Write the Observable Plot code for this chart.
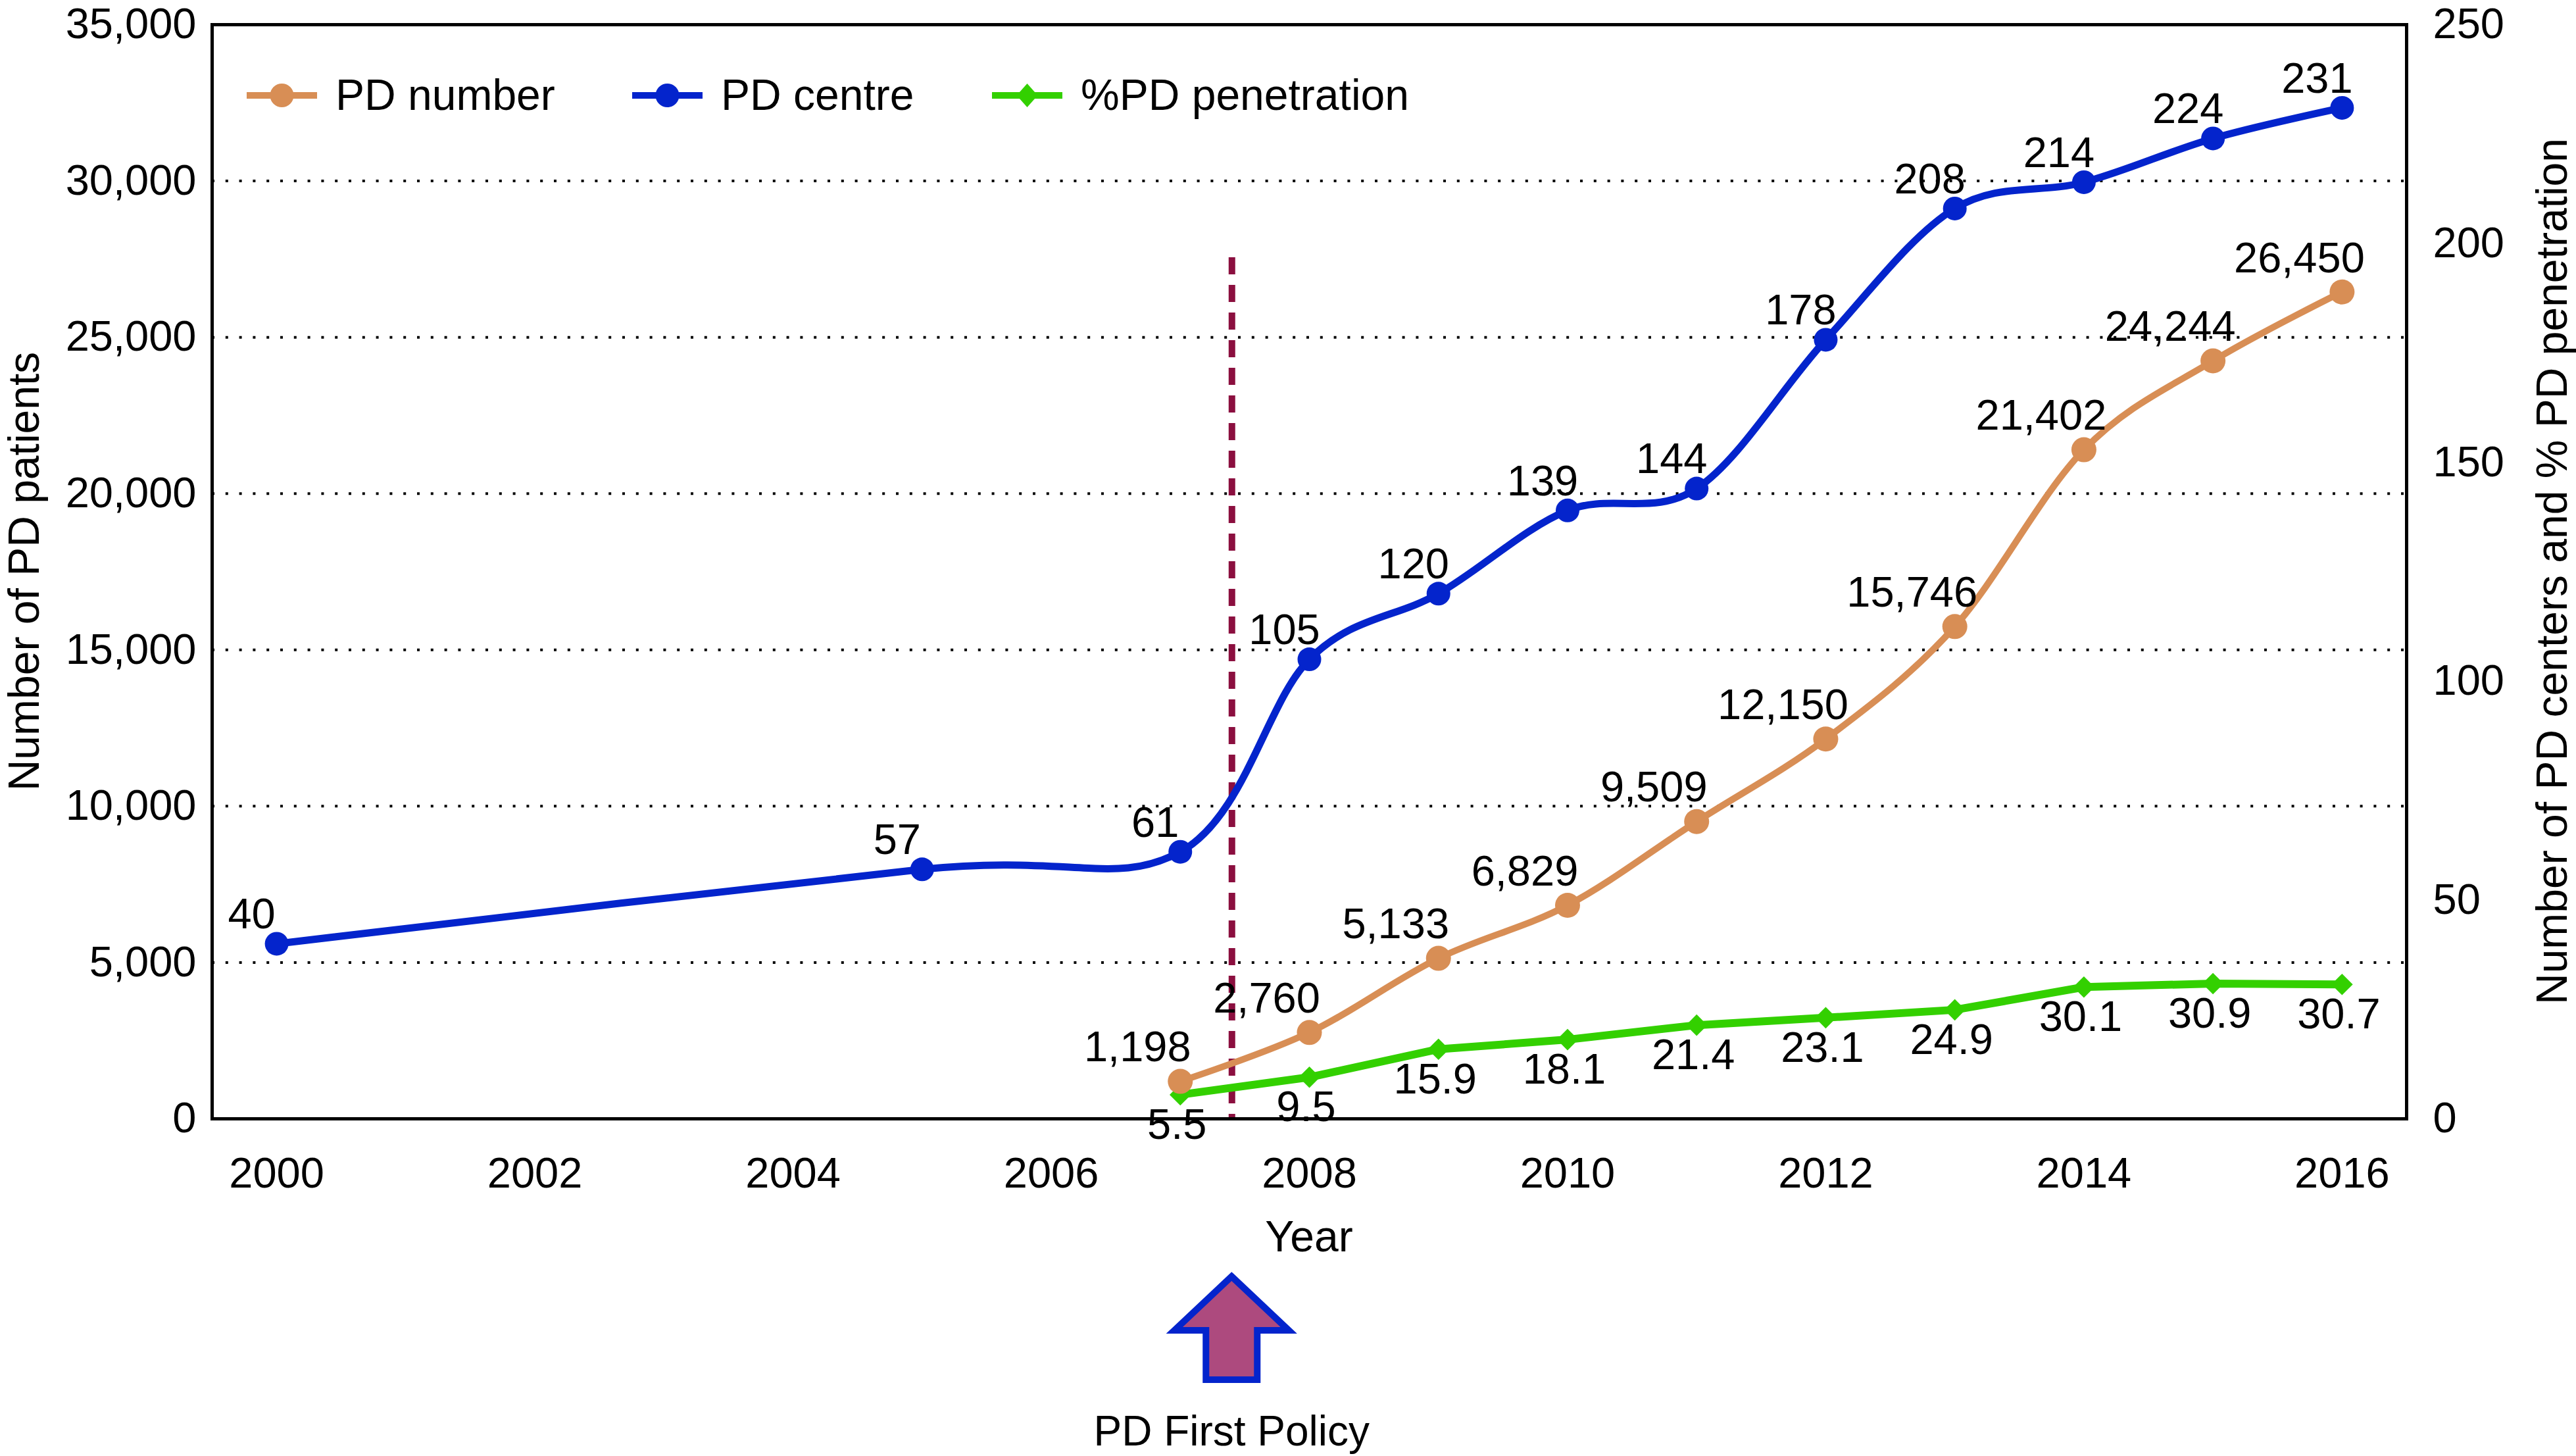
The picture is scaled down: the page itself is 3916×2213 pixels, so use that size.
<!DOCTYPE html>
<html>
<head>
<meta charset="utf-8">
<script src="https://cdn.jsdelivr.net/npm/d3@7"></script>
<script src="https://cdn.jsdelivr.net/npm/@observablehq/plot@0.6"></script>
<style>
  html, body { margin: 0; padding: 0; background: #ffffff; }
  #chart { width: 3916px; height: 2213px; position: relative; overflow: hidden; }
</style>
</head>
<body>
<div id="chart"></div>
<script>
// ---------------- data ----------------
const pdNumberYears  = [2007, 2008, 2009, 2010, 2011, 2012, 2013, 2014, 2015, 2016];
const pdNumberValues = [1198, 2760, 5133, 6829, 9509, 12150, 15746, 21402, 24244, 26450];

const pdCentreYears  = [2000, 2005, 2007, 2008, 2009, 2010, 2011, 2012, 2013, 2014, 2015, 2016];
const pdCentreValues = [40, 57, 61, 105, 120, 139, 144, 178, 208, 214, 224, 231];

const penetrationYears  = [2007, 2008, 2009, 2010, 2011, 2012, 2013, 2014, 2015, 2016];
const penetrationValues = [5.5, 9.5, 15.9, 18.1, 21.4, 23.1, 24.9, 30.1, 30.9, 30.7];

const seriesNames = ["PD number", "PD centre", "%PD penetration"];

const xTicks     = [2000, 2002, 2004, 2006, 2008, 2010, 2012, 2014, 2016];
const leftTicks  = [0, 5000, 10000, 15000, 20000, 25000, 30000, 35000];
const rightTicks = [0, 50, 100, 150, 200, 250];
const xDomain    = [1999.5, 2016.5];

const policyYear    = 2007.4;   // "PD First Policy"
const policyLineTop = 27550;    // top of dashed marker, in PD-patient units

const xTitle      = "Year";
const yLeftTitle  = "Number of PD patients";
const yRightTitle = "Number of PD centers and % PD penetration";
const policyLabel = "PD First Policy";

// ---------------- layout / style ----------------
const W = 3916, H = 2213;
const mL = 322, mR = 258, mT = 37, mB = 513;
const FONT = "'Liberation Sans', Arial, Helvetica, sans-serif";
const ORANGE = "#d88e55";
const BLUE   = "#0424cc";
const GREEN  = "#33d000";
const MAROON = "#8b0f3f";
const ARROWFILL = "#ad4a7e";

const leftMax = leftTicks[leftTicks.length - 1];
const rightMax = rightTicks[rightTicks.length - 1];
const k = leftMax / rightMax; // right axis -> left axis units

const pdNumber = pdNumberYears.map((year, i) => ({year, value: pdNumberValues[i]}));
const pdCentre = pdCentreYears.map((year, i) => ({year, value: pdCentreValues[i], scaled: pdCentreValues[i] * k}));
const penetration = penetrationYears.map((year, i) => ({year, value: penetrationValues[i], scaled: penetrationValues[i] * k}));
const gridValues = leftTicks.filter(v => v > 0 && v < leftMax);

const fmtComma = d3.format(",");

const plot = Plot.plot({
  width: W,
  height: H,
  marginLeft: mL,
  marginRight: mR,
  marginTop: mT,
  marginBottom: mB,
  style: {fontFamily: FONT, fontSize: "64px", background: "white", color: "black", overflow: "visible"},
  x: {domain: xDomain, label: null},
  y: {domain: [0, leftMax], label: null},
  marks: [
    Plot.ruleY(gridValues, {stroke: "black", strokeWidth: 4, strokeDasharray: "4,16.8"}),
    Plot.ruleX([{x: policyYear, top: policyLineTop, bottom: 0}], {x: "x", y1: "top", y2: "bottom", stroke: MAROON, strokeWidth: 10, strokeDasharray: "26,16"}),

    Plot.line(penetration, {x: "year", y: "scaled", stroke: GREEN, strokeWidth: 12, curve: "linear"}),
    Plot.line(pdNumber, {x: "year", y: "value", stroke: ORANGE, strokeWidth: 10, curve: "cardinal"}),
    Plot.line(pdCentre, {x: "year", y: "scaled", stroke: BLUE, strokeWidth: 11, curve: "cardinal"}),

    Plot.dot(penetration, {x: "year", y: "scaled", fill: GREEN, symbol: "square", rotate: 45, r: 13}),
    Plot.dot(pdNumber, {x: "year", y: "value", fill: ORANGE, r: 19}),
    Plot.dot(pdCentre, {x: "year", y: "scaled", fill: BLUE, r: 18}),

    Plot.text(pdNumber, {x: "year", y: "value", text: d => fmtComma(d.value), dx: -65, dy: -51, fill: "black", fontSize: 65}),
    Plot.text(pdCentre, {x: "year", y: "scaled", text: d => String(d.value), dx: -38, dy: -44, fill: "black", fontSize: 65}),
    Plot.text(penetration, {x: "year", y: "scaled", text: d => d.value.toFixed(1), dx: -5, dy: 46, fill: "black", fontSize: 65}),

    Plot.frame({stroke: "black", strokeWidth: 5}),

    Plot.axisX(xTicks, {anchor: "bottom", tickSize: 0, tickPadding: 58, tickFormat: d => String(d), label: null, fontSize: 65}),
    Plot.axisY(leftTicks, {anchor: "left", tickSize: 0, tickPadding: 24, tickFormat: d => fmtComma(d), label: null, fontSize: 65}),
    Plot.axisY(rightTicks.map(v => v * k), {anchor: "right", tickSize: 0, tickPadding: 40, tickFormat: d => String(Math.round(d / k)), label: null, fontSize: 65})
  ]
});

document.getElementById("chart").appendChild(plot);

// ---------------- annotations (titles, legend, policy arrow) ----------------
const svg = d3.select(plot);
const xs = plot.scale("x");
const fx = (xs && typeof xs.apply === "function") ? (v => xs.apply(v)) : d3.scaleLinear(xDomain, [mL, W - mR]);

const ann = svg.append("g").attr("font-family", FONT).attr("fill", "black").attr("text-anchor", "start");

// axis titles
ann.append("text")
  .attr("x", mL + (W - mL - mR) / 2).attr("y", 1902)
  .attr("text-anchor", "middle").attr("font-size", 66).text(xTitle);
ann.append("text")
  .attr("transform", `translate(59, ${mT + (H - mB - mT) / 2}) rotate(-90)`)
  .attr("text-anchor", "middle").attr("font-size", 66).text(yLeftTitle);
ann.append("text")
  .attr("transform", `translate(3902, ${mT + (H - mB - mT) / 2}) rotate(-90)`)
  .attr("text-anchor", "middle").attr("font-size", 66).text(yRightTitle);

// legend
const legendItems = [
  {name: seriesNames[0], color: ORANGE, symbol: "circle", x0: 375},
  {name: seriesNames[1], color: BLUE, symbol: "circle", x0: 961},
  {name: seriesNames[2], color: GREEN, symbol: "diamond", x0: 1508}
];
const ly = 145;
legendItems.forEach(it => {
  const g = ann.append("g");
  g.append("line").attr("x1", it.x0).attr("x2", it.x0 + 107).attr("y1", ly).attr("y2", ly)
    .attr("stroke", it.color).attr("stroke-width", 10);
  const cx = it.x0 + 53.5;
  if (it.symbol === "circle") {
    g.append("circle").attr("cx", cx).attr("cy", ly).attr("r", 18).attr("fill", it.color);
  } else {
    g.append("path").attr("d", `M${cx},${ly - 18}L${cx + 16},${ly}L${cx},${ly + 18}L${cx - 16},${ly}Z`).attr("fill", it.color);
  }
  g.append("text").attr("x", it.x0 + 135).attr("y", 167).attr("text-anchor", "start").attr("font-size", 66).text(it.name);
});

// policy arrow + label
const ax = fx(policyYear);
const arrowPts = [
  [ax, 1940], [ax + 87, 2022], [ax + 39, 2022], [ax + 39, 2097],
  [ax - 39, 2097], [ax - 39, 2022], [ax - 87, 2022]
];
ann.append("path")
  .attr("d", "M" + arrowPts.map(p => p.join(",")).join("L") + "Z")
  .attr("fill", ARROWFILL).attr("stroke", BLUE).attr("stroke-width", 10).attr("stroke-linejoin", "miter");
ann.append("text")
  .attr("x", ax).attr("y", 2197)
  .attr("text-anchor", "middle").attr("font-size", 64).text(policyLabel);
</script>
</body>
</html>
